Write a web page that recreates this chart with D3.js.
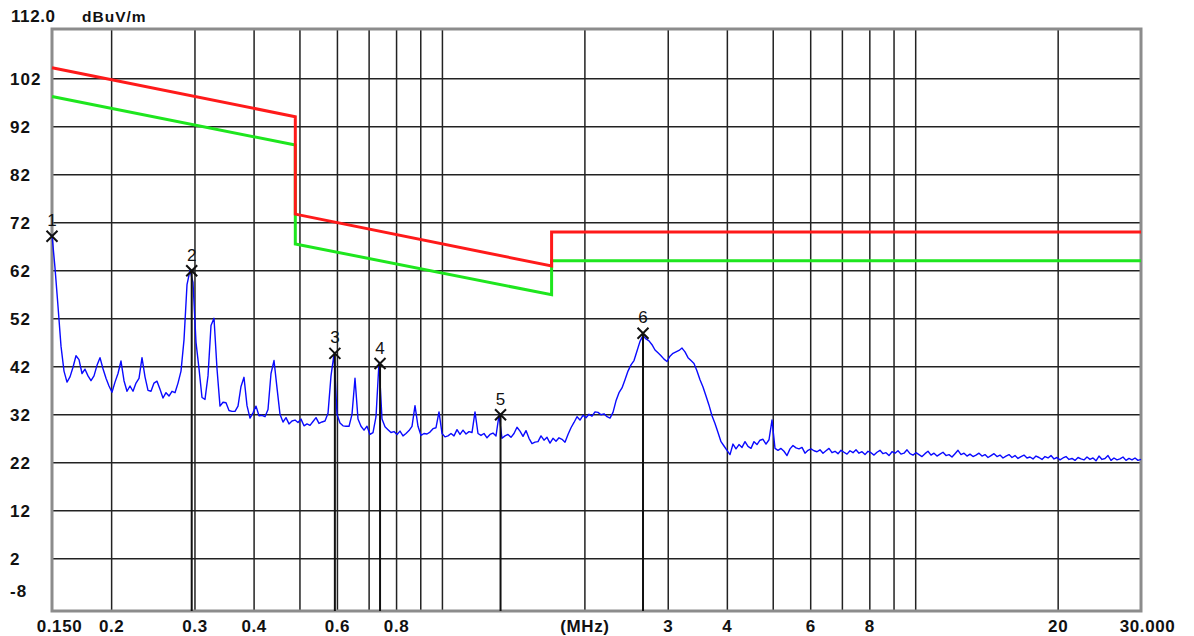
<!DOCTYPE html>
<html><head><meta charset="utf-8">
<script src="https://cdn.jsdelivr.net/npm/d3@7"></script>
<style>body{margin:0;background:#fff;} svg{display:block;}</style>
</head><body>
<svg id="chart" width="1194" height="636"></svg>
<script>
// ---- data ----
const sweepStartMHz = 0.15;
const sweepStopMHz = 30;
const traceLevels = [
69.4,62.5,54.5,46.2,41.0,38.7,39.8,41.8,44.2,43.4,
40.5,41.4,40.0,39.0,40.0,42.2,43.8,41.5,39.5,37.9,
36.6,38.7,40.5,43.1,39.0,36.8,37.9,36.8,38.5,39.5,
43.8,39.8,37.0,36.8,38.5,38.9,37.2,35.4,36.5,35.8,
36.8,36.5,38.5,41.0,47.5,59.0,62.0,59.5,47.0,41.5,
35.5,35.1,40.0,50.5,52.0,41.5,33.7,34.5,34.4,32.8,
32.6,32.6,33.7,37.8,39.7,33.8,31.2,32.3,33.7,31.7,
31.8,31.5,33.0,40.5,43.2,37.5,32.0,30.4,31.3,30.0,
30.6,30.8,30.3,31.0,29.6,30.0,29.7,30.5,31.3,30.1,
30.4,30.6,32.2,40.0,44.5,32.0,30.2,29.6,29.5,29.5,
32.0,39.5,31.0,29.5,28.7,29.5,27.8,28.2,31.5,42.8,
31.0,29.4,28.8,28.2,28.4,27.8,28.5,27.5,28.0,28.6,
29.5,33.8,29.5,27.6,28.0,27.9,28.3,29.0,29.2,32.5,
28.0,27.3,27.5,28.0,27.5,28.8,27.8,28.7,27.9,28.4,
28.2,32.5,28.0,27.6,28.0,27.1,27.8,28.1,27.5,31.8,
27.0,27.5,27.8,27.2,28.0,29.3,28.5,27.4,28.6,27.0,
25.9,26.2,26.3,27.5,26.6,27.2,26.0,27.0,26.4,27.1,
26.8,26.2,27.8,29.2,30.3,31.5,30.8,31.8,31.3,32.0,
31.6,32.5,32.4,31.9,32.1,31.5,31.2,32.4,34.8,36.5,
37.5,39.2,41.0,42.3,43.2,45.2,47.2,48.4,47.7,47.3,
46.5,45.4,44.8,44.2,43.5,43.0,44.1,44.7,45.0,45.3,
45.8,45.0,43.8,43.2,42.6,41.0,39.2,37.7,35.8,33.9,
31.7,30.1,28.2,26.3,25.4,24.5,23.6,25.8,24.8,25.7,
25.1,26.3,25.3,24.9,26.3,25.7,26.6,26.8,25.8,26.7,
30.8,24.9,24.5,24.9,24.3,23.4,24.8,25.5,25.0,24.8,
25.1,23.9,24.5,24.8,24.4,24.2,24.6,23.9,24.4,24.9,
24.0,24.3,23.8,24.5,24.1,23.7,24.4,24.0,24.6,23.9,
24.2,23.6,24.3,24.0,23.5,24.1,24.5,23.8,24.0,23.4,
24.2,23.9,24.4,23.7,23.9,24.6,23.8,23.5,24.0,23.6,
23.2,23.8,24.3,23.5,23.9,23.3,23.7,24.1,23.4,23.6,
23.1,23.8,24.5,23.6,23.9,23.3,23.7,23.2,23.5,23.9,
23.3,23.6,23.0,23.4,23.8,23.2,23.5,22.9,23.3,23.6,
23.0,23.4,22.8,23.2,23.5,22.9,23.1,22.7,23.3,23.0,
22.6,23.2,22.9,23.4,22.7,23.0,22.5,22.9,23.2,22.6,
22.8,22.4,23.0,22.7,22.5,23.1,22.6,22.9,22.3,23.3,
22.6,22.8,23.4,22.4,22.9,22.5,22.7,23.1,22.4,22.8,
22.5,22.9,22.4,22.6
];
const yLabelValues = [-8,2,12,22,32,42,52,62,72,82,92,102];
const yGridValues = [2,12,22,32,42,52,62,72,82,92,102];
const xGridValues = [0.2,0.3,0.4,0.5,0.6,0.7,0.8,0.9,1,2,3,4,5,6,7,8,9,10,20];
const xTickValues = [0.15,0.2,0.3,0.4,0.6,0.8,2,3,4,6,8,20,30];
const xTickLabels = ["0.150","0.2","0.3","0.4","0.6","0.8","(MHz)","3","4","6","8","20","30.000"];
const limitFreqs = [0.15,0.49,0.49,1.705,1.705,30];
const limitRedLevels = [104.2,94.0,73.7,62.9,70.0,70.0];
const limitGreenLevels = [98.2,88.1,67.5,56.9,64.0,64.0];
const markerIds = [1,2,3,4,5,6];
const markerFreqs = [0.15,0.296,0.594,0.74,1.33,2.66];
const markerLevels = [69.1,61.9,44.7,42.6,31.9,48.9];
const yTopLabel = "112.0";
const yUnit = "dBuV/m";

// ---- layout ----
const svg = d3.select("#chart");
const L = 52, R = 1141, T = 29, B = 611;
const x = d3.scaleLog().domain([sweepStartMHz, sweepStopMHz]).range([L, R]);
const y = d3.scaleLinear().domain([-8, 112]).range([606.3, 30.3]);
const font = "'Liberation Sans', Arial, sans-serif";

svg.append("rect").attr("width",1194).attr("height",636).attr("fill","#fff");

// grid via axes
const gx = svg.append("g").attr("transform",`translate(0,${B})`)
  .call(d3.axisBottom(x).tickValues(xGridValues).tickSize(-(B-T)).tickFormat(""));
gx.select(".domain").remove();
gx.selectAll("line").attr("stroke","#222").attr("stroke-width",1.5);

const gy = svg.append("g").attr("transform",`translate(${L},0)`)
  .call(d3.axisLeft(y).tickValues(yGridValues).tickSize(-(R-L)).tickFormat(""));
gy.select(".domain").remove();
gy.selectAll("line").attr("stroke","#222").attr("stroke-width",1.5);

// frame
svg.append("rect").attr("x",L).attr("y",T).attr("width",R-L).attr("height",B-T)
  .attr("fill","none").attr("stroke","#8c8c8c").attr("stroke-width",3);

// y labels
const yl = svg.append("g").attr("transform","translate(0,0)")
  .call(d3.axisLeft(y).tickValues(yLabelValues).tickSize(0).tickFormat(d=>String(d)));
yl.select(".domain").remove();
yl.selectAll("text")
  .attr("x",10).attr("text-anchor","start")
  .attr("dy", d => d === -8 ? "-0.55em" : "0.36em")
  .attr("font-family",font).attr("font-weight","bold").attr("font-size",17)
  .attr("letter-spacing",1).attr("fill","#111");

svg.append("text").attr("x",11).attr("y",y(112)-14).attr("dy","0.36em")
  .attr("font-family",font).attr("font-weight","bold").attr("font-size",17)
  .attr("letter-spacing",0.6).attr("fill","#111").text(yTopLabel);
svg.append("text").attr("x",82).attr("y",y(112)-14).attr("dy","0.36em")
  .attr("font-family",font).attr("font-weight","bold").attr("font-size",15.5)
  .attr("letter-spacing",1).attr("fill","#111").text(yUnit);

// x labels
const xl = svg.append("g").attr("transform",`translate(0,${B})`)
  .call(d3.axisBottom(x).tickValues(xTickValues).tickSize(0)
    .tickFormat((d,i)=>xTickLabels[i]));
xl.select(".domain").remove();
xl.selectAll("text")
  .attr("y",9).attr("dy","0.71em")
  .attr("font-family",font).attr("font-weight","bold").attr("font-size",17)
  .attr("letter-spacing",0.6).attr("fill","#111")
  .attr("dx",(d)=> d===0.15 ? 7 : (d===30 ? 6 : 0));

// limit lines
const lim = d3.line().x(d=>x(d[0])).y(d=>y(d[1]));
svg.append("path").datum(limitFreqs.map((f,i)=>[f,limitGreenLevels[i]]))
  .attr("d",lim).attr("fill","none").attr("stroke","#1ee61e").attr("stroke-width",3);
svg.append("path").datum(limitFreqs.map((f,i)=>[f,limitRedLevels[i]]))
  .attr("d",lim).attr("fill","none").attr("stroke","#ff1a1a").attr("stroke-width",3);

// trace
const n = traceLevels.length;
const traceData = traceLevels.map((v,i)=>[
  sweepStartMHz*Math.pow(sweepStopMHz/sweepStartMHz, i/(n-1)), v]);
svg.append("path").datum(traceData)
  .attr("d",d3.line().x(d=>x(d[0])).y(d=>y(d[1])))
  .attr("fill","none").attr("stroke","#0a0aff").attr("stroke-width",1.4)
  .attr("stroke-linejoin","round");

// markers
const mk = svg.append("g");
markerIds.forEach((id,i)=>{
  const mx = x(markerFreqs[i]), my = y(markerLevels[i]);
  if (i > 0) mk.append("line").attr("x1",mx).attr("x2",mx).attr("y1",my).attr("y2",B)
    .attr("stroke","#111").attr("stroke-width",2);
  const s = 5.5;
  mk.append("path").attr("d",`M${mx-s},${my-s}L${mx+s},${my+s}M${mx-s},${my+s}L${mx+s},${my-s}`)
    .attr("stroke","#111").attr("stroke-width",2);
  mk.append("text").attr("x",mx).attr("y",my-16).attr("dy","0.36em")
    .attr("text-anchor","middle").attr("font-family",font).attr("font-size",17)
    .attr("fill","#111").text(id);
});
</script>
</body></html>
